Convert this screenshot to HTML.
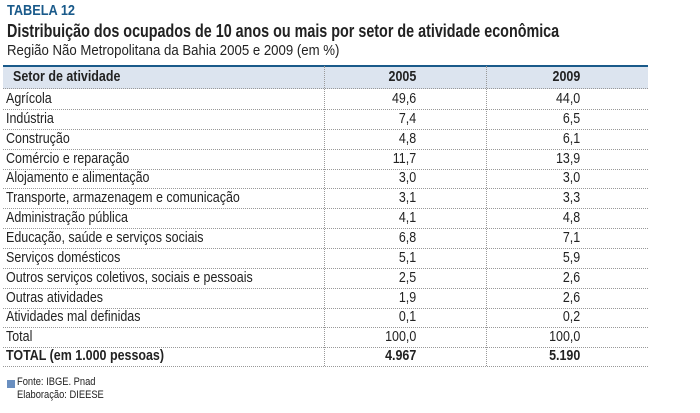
<!DOCTYPE html><html><head><meta charset="utf-8"><style>
body{margin:0;width:700px;height:413px;background:#fff;position:relative;overflow:hidden;font-family:"Liberation Sans",sans-serif;color:#222}
.a{position:absolute;white-space:nowrap;transform-origin:left top}
.r{position:absolute;left:3px;width:645px;height:20px;border-bottom:1px dotted #999}
.r span{position:absolute;top:2px;font-size:14.5px;white-space:nowrap;transform:scaleX(0.86);transform-origin:left top}
.r span.n1,.r span.n2{transform-origin:right top}
.n1{right:232px}.n2{right:68px}
.v{position:absolute;top:66px;height:300px;border-left:1px dotted #999}
</style></head><body>
<div class="a" style="left:7px;top:2px;font-size:15px;font-weight:bold;color:#1a5a8a;transform:scaleX(0.85)">TABELA 12</div>
<div class="a" style="left:7px;top:20px;font-size:18.5px;font-weight:bold;color:#222;transform:scaleX(0.775)">Distribuição dos ocupados de 10 anos ou mais por setor de atividade econômica</div>
<div class="a" style="left:7px;top:42px;font-size:15px;transform:scaleX(0.88)">Região Não Metropolitana da Bahia 2005 e 2009 (em %)</div>
<div style="position:absolute;left:3px;top:65px;width:645px;height:2px;background:#1a5a8a"></div>
<div class="r" style="top:67px;height:21px;background:#dce4ef;font-weight:bold"><span style="left:10px;top:2px;font-weight:bold">Setor de atividade</span><span class="n1" style="font-weight:bold">2005</span><span class="n2" style="font-weight:bold">2009</span></div>
<div class="r" style="top:89px"><span style="left:3px">Agrícola</span><span class="n1">49,6</span><span class="n2">44,0</span></div>
<div class="r" style="top:109px"><span style="left:3px">Indústria</span><span class="n1">7,4</span><span class="n2">6,5</span></div>
<div class="r" style="top:129px"><span style="left:3px">Construção</span><span class="n1">4,8</span><span class="n2">6,1</span></div>
<div class="r" style="top:149px"><span style="left:3px">Comércio e reparação</span><span class="n1">11,7</span><span class="n2">13,9</span></div>
<div class="r" style="top:168px"><span style="left:3px">Alojamento e alimentação</span><span class="n1">3,0</span><span class="n2">3,0</span></div>
<div class="r" style="top:188px"><span style="left:3px">Transporte, armazenagem e comunicação</span><span class="n1">3,1</span><span class="n2">3,3</span></div>
<div class="r" style="top:208px"><span style="left:3px">Administração pública</span><span class="n1">4,1</span><span class="n2">4,8</span></div>
<div class="r" style="top:228px"><span style="left:3px">Educação, saúde e serviços sociais</span><span class="n1">6,8</span><span class="n2">7,1</span></div>
<div class="r" style="top:248px"><span style="left:3px">Serviços domésticos</span><span class="n1">5,1</span><span class="n2">5,9</span></div>
<div class="r" style="top:268px"><span style="left:3px">Outros serviços coletivos, sociais e pessoais</span><span class="n1">2,5</span><span class="n2">2,6</span></div>
<div class="r" style="top:288px"><span style="left:3px">Outras atividades</span><span class="n1">1,9</span><span class="n2">2,6</span></div>
<div class="r" style="top:307px"><span style="left:3px">Atividades mal definidas</span><span class="n1">0,1</span><span class="n2">0,2</span></div>
<div class="r" style="top:327px"><span style="left:3px">Total</span><span class="n1">100,0</span><span class="n2">100,0</span></div>
<div class="r" style="top:346px"><span style="left:3px;font-weight:bold">TOTAL (em 1.000 pessoas)</span><span class="n1" style="font-weight:bold">4.967</span><span class="n2" style="font-weight:bold">5.190</span></div>
<div class="v" style="left:324px"></div><div class="v" style="left:486px"></div>
<div style="position:absolute;left:7px;top:380px;width:8px;height:8px;background:#6a8fc0"></div>
<div class="a" style="left:17px;top:376px;font-size:11px;transform:scaleX(0.85)">Fonte: IBGE. Pnad</div>
<div class="a" style="left:17px;top:389px;font-size:11px;transform:scaleX(0.85)">Elaboração: DIEESE</div>
</body></html>
